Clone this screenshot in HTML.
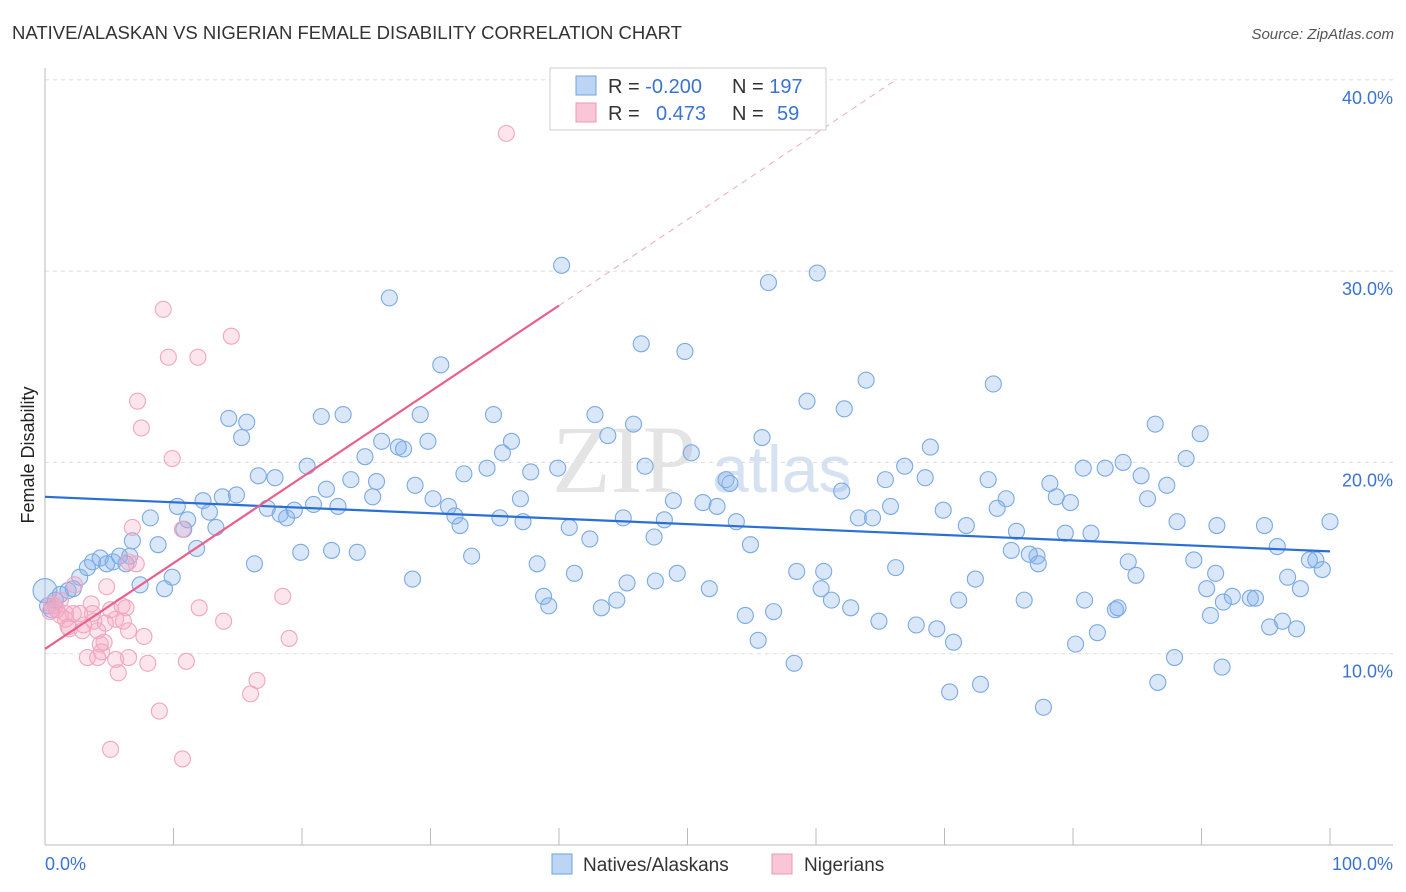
<!DOCTYPE html>
<html><head><meta charset="utf-8"><style>
body{margin:0;background:#fff;font-family:"Liberation Sans",sans-serif;}
svg{display:block}
</style></head><body>
<svg width="1406" height="892" xmlns="http://www.w3.org/2000/svg">
<text x="12" y="39" font-size="18.5" fill="#333">NATIVE/ALASKAN VS NIGERIAN FEMALE DISABILITY CORRELATION CHART</text>
<text x="1394" y="39" font-size="15" fill="#555" font-style="italic" text-anchor="end">Source: ZipAtlas.com</text>
<g id="grid"></g>
<g>
<text x="552" y="492" font-family="Liberation Serif,serif" font-size="96" fill="#e4e4e4">ZIP</text>
<text x="712" y="492" font-size="66" fill="#d6e2f2">atlas</text>
</g>
<line x1="45" y1="68" x2="45" y2="845" stroke="#bbb"/>
<line x1="45" y1="845" x2="1393" y2="845" stroke="#bbb"/>
<g id="ticks"></g>
<g id="points"></g>
<g id="trends"></g>
<text transform="translate(34,455) rotate(-90)" font-size="18" fill="#222" text-anchor="middle">Female Disability</text>
<text x="45" y="870" font-size="18" fill="#3b73d1">0.0%</text>
<text x="1393" y="870" font-size="18" fill="#3b73d1" text-anchor="end">100.0%</text>
<g>
<rect x="550" y="68" width="276" height="62" fill="#fff" stroke="#ccc"/>
<rect x="576" y="76" width="20" height="19" fill="#bcd5f4" stroke="#6fa3e0"/>
<rect x="576" y="103" width="20" height="19" fill="#f8c6d6" stroke="#ee99b4"/>
<text x="608" y="93" font-size="20" fill="#333">R = <tspan fill="#3b73d1">-0.200</tspan><tspan x="732">N = </tspan><tspan fill="#3b73d1">197</tspan></text>
<text x="608" y="120" font-size="20" fill="#333">R = <tspan x="656" fill="#3b73d1">0.473</tspan><tspan x="732">N = </tspan><tspan x="777" fill="#3b73d1">59</tspan></text>
</g>
<g>
<rect x="552" y="854" width="20" height="20" fill="#bcd5f4" stroke="#6fa3e0"/>
<text x="583" y="871" font-size="19" fill="#333">Natives/Alaskans</text>
<rect x="772" y="854" width="20" height="20" fill="#f8c6d6" stroke="#ee99b4"/>
<text x="804" y="871" font-size="19" fill="#333">Nigerians</text>
</g>
</svg>
<script>
const yTicks=[10,20,30,40];
const yTickLabels=["10.0%","20.0%","30.0%","40.0%"];
const xTicks=[0,10,20,30,40,50,60,70,80,90,100];
const blueX=[40.2,26.8,56.3,60.1,30.8,46.4,49.8,63.9,73.8,59.3,62.2,21.5,23.2,29.2,34.9,42.8,14.3,15.7,15.3,26.2,27.5,27.9,29.8,36.3,43.8,45.8,55.8,86.4,89.9,68.9,88.8,16.6,17.9,20.4,24.9,32.6,34.4,35.6,37.8,39.9,46.7,50.3,53.0,53.3,66.9,68.5,65.4,73.4,80.8,82.5,83.9,85.3,87.3,78.2,78.7,79.8,85.8,74.8,74.1,69.9,62.0,14.9,13.8,12.3,10.3,8.2,11.1,12.8,13.3,10.8,17.3,18.3,18.8,19.4,20.9,21.9,22.8,23.8,25.5,25.8,28.8,30.2,31.4,31.9,32.3,35.4,37.0,37.2,40.8,42.4,45.0,47.4,48.2,48.9,51.2,52.3,53.8,54.9,63.3,64.4,65.8,71.7,75.6,79.4,81.4,88.1,91.2,94.9,100.0,95.9,98.4,98.9,99.4,89.4,84.3,77.2,76.6,75.2,77.3,6.6,8.8,11.8,16.3,19.9,22.3,24.3,33.2,38.3,41.2,47.5,49.2,45.3,51.7,58.5,60.6,60.4,61.2,66.2,72.4,84.9,90.4,91.1,96.7,97.7,76.2,71.1,80.9,91.7,92.4,93.8,94.2,83.3,83.5,56.7,54.5,62.7,64.9,90.7,38.8,39.2,43.3,44.5,28.6,9.9,9.3,7.4,96.3,97.4,95.3,67.8,69.4,70.7,80.2,81.9,55.5,58.3,87.9,91.6,70.4,72.8,86.6,77.7,0,0.8,1.2,1.8,2.2,2.7,3.3,3.7,4.3,4.8,5.3,5.8,6.3,0.2,0.5,6.8];
const blueY=[30.3,28.6,29.4,29.9,25.1,26.2,25.8,24.3,24.1,23.2,22.8,22.4,22.5,22.5,22.5,22.5,22.3,22.1,21.3,21.1,20.8,20.7,21.1,21.1,21.4,22.0,21.3,22.0,21.5,20.8,20.2,19.3,19.2,19.8,20.3,19.4,19.7,20.5,19.5,19.7,19.8,20.5,19.1,18.9,19.8,19.2,19.1,19.1,19.7,19.7,20.0,19.3,18.8,18.9,18.2,17.9,18.1,18.1,17.6,17.5,18.5,18.3,18.2,18.0,17.7,17.1,17.0,17.4,16.6,16.5,17.6,17.3,17.1,17.5,17.8,18.6,17.7,19.1,18.2,19.0,18.8,18.1,17.7,17.2,16.7,17.1,18.1,16.9,16.6,16.0,17.1,16.1,17.0,18.0,17.9,17.7,16.9,15.7,17.1,17.1,17.7,16.7,16.4,16.3,16.3,16.9,16.7,16.7,16.9,15.6,14.9,14.9,14.4,14.9,14.8,15.1,15.2,15.4,14.7,15.1,15.7,15.5,14.7,15.3,15.4,15.3,15.1,14.7,14.2,13.8,14.2,13.7,13.4,14.3,14.3,13.4,12.8,14.5,13.9,14.1,13.4,14.2,14.0,13.4,12.8,12.8,12.8,12.7,13.0,12.9,12.9,12.3,12.4,12.2,12.0,12.4,11.7,12.0,13.0,12.5,12.4,12.8,13.9,14.0,13.4,13.6,11.7,11.3,11.4,11.5,11.3,10.6,10.5,11.1,10.7,9.5,9.8,9.3,8.0,8.4,8.5,7.2,13.3,12.8,13.1,13.3,13.4,14.0,14.5,14.8,15.0,14.7,14.8,15.1,14.7,12.5,12.3,15.9];
const pinkX=[35.9,9.2,14.5,9.6,11.9,7.2,7.5,9.9,6.8,10.7,7.1,2.3,4.8,3.6,6.0,6.3,5.1,12.0,13.9,18.5,19.0,3.8,4.1,5.5,6.1,2.9,1.9,1.6,1.2,0.5,0.4,0.8,2.2,2.7,4.6,4.4,6.5,7.7,3.3,4.1,5.5,6.5,8.0,11.0,5.7,16.5,16.0,8.9,5.1,10.7,6.5,0.9,1.6,3.0,4.3,1.2,1.8,3.7,4.7];
const pinkY=[37.2,28.0,26.6,25.5,25.5,23.2,21.8,20.2,16.6,16.5,14.7,13.6,13.5,12.6,12.5,12.4,12.3,12.4,11.7,13.0,10.8,11.7,11.2,11.8,11.7,11.2,11.3,11.8,12.0,12.6,12.2,12.5,12.1,12.1,10.6,10.1,11.2,10.9,9.8,9.8,9.7,9.8,9.5,9.6,9.0,8.6,7.9,7.0,5.0,4.5,14.8,12.3,12.1,11.5,10.5,12.8,11.4,12.1,11.6];
const blueTrendX=[0,100], blueTrendY=[18.2,15.35];
const pinkTrendX=[0,40], pinkTrendY=[10.25,28.2];
const pinkDashX=[40,66], pinkDashY=[28.2,39.9];
const X0=45,X1=1330,Y0=845,PPY=19.13;
function sx(v){return X0+(X1-X0)*v/100;}
function sy(v){return Y0-v*PPY;}
const NS="http://www.w3.org/2000/svg";
function mk(tag,attrs,parent){const e=document.createElementNS(NS,tag);for(const k in attrs)e.setAttribute(k,attrs[k]);parent.appendChild(e);return e;}
const grid=document.getElementById('grid');
yTicks.forEach((t,i)=>{
 const l=mk('line',{x1:45,x2:1393,y1:sy(t),y2:sy(t),stroke:'#ddd','stroke-dasharray':'4,4'},grid);
 
 
 const tx=mk('text',{x:1393,y:sy(t)+24,'font-size':18,fill:'#3b73d1','text-anchor':'end'},grid);
 tx.textContent=yTickLabels[i];
 
 
});
const tk=document.getElementById('ticks');
xTicks.forEach(t=>{
 const l=mk('line',{x1:sx(t),x2:sx(t),y1:828,y2:845,stroke:'#bbb'},tk);
 
 
});
const pts=document.getElementById('points');
blueX.forEach((x,i)=>{
 const c=mk('circle',{cx:sx(x),cy:sy(blueY[i]),r:(i==blueX.length-16?12:8),fill:'rgba(130,175,235,0.3)',stroke:'#7aaae3','stroke-width':1.1},pts);
 
 
});
pinkX.forEach((x,i)=>{
 const c=mk('circle',{cx:sx(x),cy:sy(pinkY[i]),r:8,fill:'rgba(245,170,195,0.3)',stroke:'#f0a6bf','stroke-width':1.1},pts);
 
 
});
const tr=document.getElementById('trends');
let l1=mk('line',{x1:sx(blueTrendX[0]),y1:sy(blueTrendY[0]),x2:sx(blueTrendX[1]),y2:sy(blueTrendY[1]),stroke:'#2a6fd6','stroke-width':2.2},tr);


let l2=mk('line',{x1:sx(pinkTrendX[0]),y1:sy(pinkTrendY[0]),x2:sx(pinkTrendX[1]),y2:sy(pinkTrendY[1]),stroke:'#e8608c','stroke-width':2.2},tr);


let l3=mk('line',{x1:sx(pinkDashX[0]),y1:sy(pinkDashY[0]),x2:sx(pinkDashX[1]),y2:sy(pinkDashY[1]),stroke:'#f0a8bf','stroke-width':1,'stroke-dasharray':'6,5'},tr);


</script>
</body></html>
